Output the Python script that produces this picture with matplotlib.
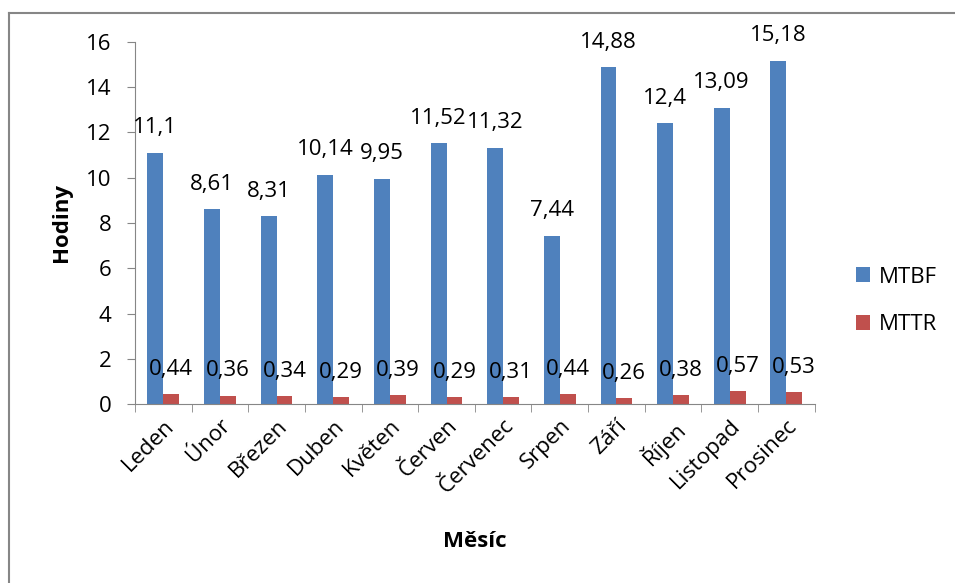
import numpy as np
import matplotlib.pyplot as plt
from matplotlib.lines import Line2D

months = ['Leden', 'Únor', 'Březen', 'Duben', 'Květen', 'Červen',
          'Červenec', 'Srpen', 'Září', 'Říjen', 'Listopad', 'Prosinec']
mtbf = [11.1, 8.61, 8.31, 10.14, 9.95, 11.52, 11.32, 7.44, 14.88, 12.4, 13.09, 15.18]
mttr = [0.44, 0.36, 0.34, 0.29, 0.39, 0.29, 0.31, 0.44, 0.26, 0.38, 0.57, 0.53]

plt.rcParams['font.family'] = ['Open Sans', 'DejaVu Sans']
fs = 16

fig = plt.figure(figsize=(9.55, 5.83), dpi=100)
ax = fig.add_axes([0.1414, 0.307, 0.7116, 0.621])

x = np.arange(len(months))
w = 0.28
b1 = ax.bar(x - w / 2, mtbf, w, color='#4f81bd', label='MTBF')
b2 = ax.bar(x + w / 2, mttr, w, color='#c0504d', label='MTTR')

def fmt(v):
    return ('%g' % v).replace('.', ',')

for bars, vals in ((b1, mtbf), (b2, mttr)):
    for r, v in zip(bars, vals):
        ax.annotate(fmt(v), (r.get_x() + r.get_width() / 2, v),
                    xytext=(0, 14), textcoords='offset points',
                    ha='center', va='baseline', fontsize=fs)

ax.set_xlim(-0.5, len(months) - 0.5)
ax.set_ylim(0, 16)
ax.set_yticks(range(0, 17, 2))
ax.set_xticks(x)
ax.set_xticklabels(months, rotation=45, ha='right', rotation_mode='anchor')
ax.set_xticks(np.arange(-0.5, len(months)), minor=True)
ax.tick_params(axis='x', which='major', length=0, pad=8, labelsize=fs)
ax.tick_params(axis='x', which='minor', length=6, color='#868686')
ax.tick_params(axis='y', length=6, color='#868686', labelsize=fs, pad=11)

for s in ('top', 'right'):
    ax.spines[s].set_visible(False)
for s in ('left', 'bottom'):
    ax.spines[s].set_color('#868686')

ax.set_ylabel('Hodiny', fontsize=fs, fontweight='bold', labelpad=10)
ax.set_xlabel('Měsíc', fontsize=fs, fontweight='bold', labelpad=24)

ax.legend(loc='center left', bbox_to_anchor=(856 / 955, 1 - 301 / 583),
          bbox_transform=fig.transFigure, frameon=False,
          fontsize=fs, handlelength=0.65, handleheight=0.65,
          labelspacing=1.2, handletextpad=0.4, borderaxespad=0, borderpad=0)

# chart area border (only top and left edges visible in the crop)
fig.add_artist(Line2D([9 / 955, 9 / 955], [0, 1 - 13 / 583],
                      transform=fig.transFigure, color='#868686', lw=1.5))
fig.add_artist(Line2D([9 / 955, 1], [1 - 13 / 583, 1 - 13 / 583],
                      transform=fig.transFigure, color='#868686', lw=1.5))

fig.savefig('out.png', dpi=100)
